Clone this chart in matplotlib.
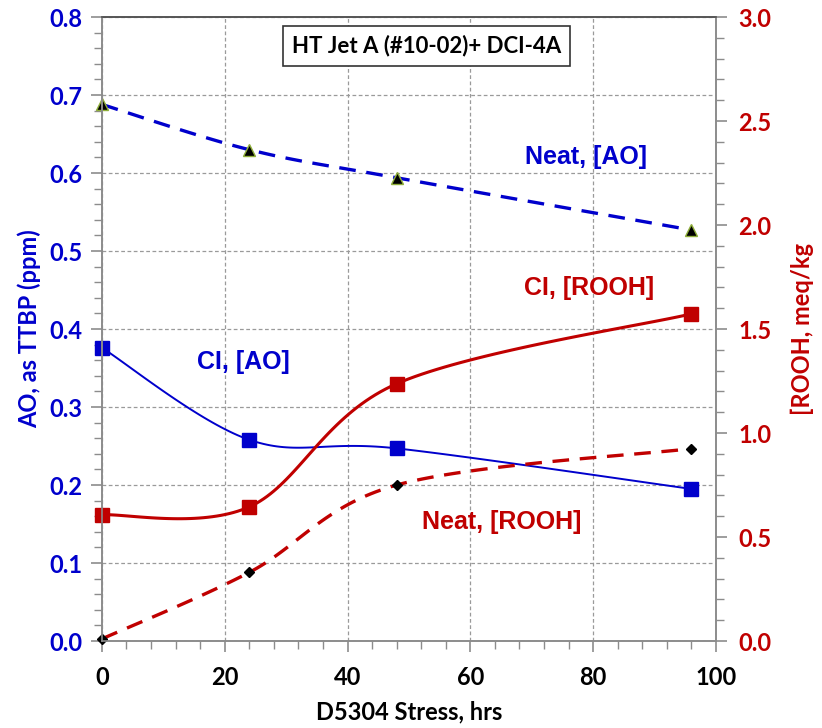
import numpy as np
import matplotlib
matplotlib.use('Agg')
import matplotlib.pyplot as plt
from matplotlib.ticker import MultipleLocator, FormatStrFormatter
from matplotlib.font_manager import FontProperties

# data
hours = [0, 24, 48, 96]
neat_ao = [0.688, 0.630, 0.594, 0.527]      # ppm, left axis
ci_ao = [0.376, 0.258, 0.247, 0.195]        # ppm, left axis
ci_rooh = [0.607, 0.645, 1.237, 1.573]      # meq/kg, right axis
neat_rooh = [0.010, 0.330, 0.750, 0.925]    # meq/kg, right axis

BLUE = '#0000CC'
RED = '#C00000'
GRID = '#9a9a9a'
SPINE = '#8c8c8c'


def smooth(x, y, n=40):
    # Excel-like smoothed line: Catmull-Rom style cubic Bezier through the points
    p = np.column_stack([x, y]).astype(float)
    out = [p[:1]]
    t = np.linspace(0, 1, n)[1:, None]
    for i in range(len(p) - 1):
        p0, p1, p2 = p[max(i - 1, 0)], p[i], p[i + 1]
        p3 = p[min(i + 2, len(p) - 1)]
        c1 = p1 + (p2 - p0) / 6
        c2 = p2 - (p3 - p1) / 6
        seg = ((1 - t) ** 3) * p1 + 3 * ((1 - t) ** 2) * t * c1 + 3 * (1 - t) * t ** 2 * c2 + t ** 3 * p2
        out.append(seg)
    s = np.vstack(out)
    return s[:, 0], s[:, 1]


fig = plt.figure(figsize=(8.22, 7.28), dpi=100)
ax = fig.add_axes([0.124, 0.1195, 0.747, 0.857])
ax2 = ax.twinx()

# left axis: antioxidant
sx, sy = smooth(hours, neat_ao)
ax.plot(sx, sy, color=BLUE, lw=2.4, dashes=(5, 3.2))
ax.plot(hours, neat_ao, ls='none', marker='^', ms=9, mfc='black', mec='#8fae3a', mew=1, clip_on=False)
sx, sy = smooth(hours, ci_ao)
ax.plot(sx, sy, color=BLUE, lw=1.4)
ax.plot(hours, ci_ao, ls='none', marker='s', ms=9.5, color=BLUE, clip_on=False)

# right axis: hydroperoxides
sx, sy = smooth(hours, ci_rooh)
ax2.plot(sx, sy, color=RED, lw=2.2)
ax2.plot(hours, ci_rooh, ls='none', marker='s', ms=9.5, color=RED, clip_on=False)
sx, sy = smooth(hours, neat_rooh)
ax2.plot(sx, sy, color=RED, lw=2.4, dashes=(5, 3.2))
ax2.plot(hours, neat_rooh, ls='none', marker='D', ms=5.5, color='black', clip_on=False)

ax.set_xlim(0, 100)
ax.set_ylim(0, 0.8)
ax2.set_ylim(0, 3.0)
ax.xaxis.set_major_locator(MultipleLocator(20))
ax.xaxis.set_minor_locator(MultipleLocator(4))
ax.yaxis.set_major_locator(MultipleLocator(0.1))
ax.yaxis.set_minor_locator(MultipleLocator(0.02))
ax2.yaxis.set_major_locator(MultipleLocator(0.5))
ax2.yaxis.set_minor_locator(MultipleLocator(0.1))
ax.yaxis.set_major_formatter(FormatStrFormatter('%.1f'))
ax2.yaxis.set_major_formatter(FormatStrFormatter('%.1f'))

ax.grid(True, which='major', color=GRID, ls=(0, (3, 2)), lw=0.9)
ax.set_axisbelow(True)

for a in (ax, ax2):
    for side in ('left', 'right', 'bottom'):
        a.spines[side].set_color(SPINE)
        a.spines[side].set_linewidth(1.2)
    a.spines['top'].set_color('#555555')
    a.spines['top'].set_linewidth(1.2)
    a.tick_params(which='major', length=8, width=1.2, color=SPINE)
    a.tick_params(which='minor', length=6, width=1, color=SPINE)

tick_font = FontProperties(family='Lato', weight='bold', size=17)
ax.tick_params(axis='x', labelcolor='black', pad=10)
ax.tick_params(axis='y', labelcolor=BLUE, pad=6)
ax2.tick_params(axis='y', labelcolor=RED, pad=8)
for lab in ax.get_xticklabels() + ax.get_yticklabels() + ax2.get_yticklabels():
    lab.set_fontproperties(tick_font)

ax.set_xlabel('D5304 Stress, hrs', family='Lato', weight='bold', size=17, labelpad=8)
ax.set_ylabel('AO, as TTBP (ppm)', family='Lato', weight='bold', size=17, color=BLUE, labelpad=6)
ax2.set_ylabel('[ROOH, meq/kg', family='Lato', weight='bold', size=17, color=RED, labelpad=14)

ax.text(0.528, 0.954, 'HT Jet A (#10-02)+ DCI-4A', transform=ax.transAxes, ha='center', va='center',
        family='Lato', weight='bold', size=16,
        bbox=dict(boxstyle='square,pad=0.4', fc='white', ec='#333333', lw=1.2))

lab_font = dict(family='Liberation Sans', weight='bold', size=18)
ax.text(78.8, 0.62, 'Neat, [AO]', color=BLUE, ha='center', va='center', **lab_font)
ax.text(79.4, 0.453, 'CI, [ROOH]', color=RED, ha='center', va='center', **lab_font)
ax.text(23.1, 0.358, 'CI, [AO]', color=BLUE, ha='center', va='center', **lab_font)
ax.text(65.1, 0.153, 'Neat, [ROOH]', color=RED, ha='center', va='center', **lab_font)

fig.savefig('out.png', dpi=100)
